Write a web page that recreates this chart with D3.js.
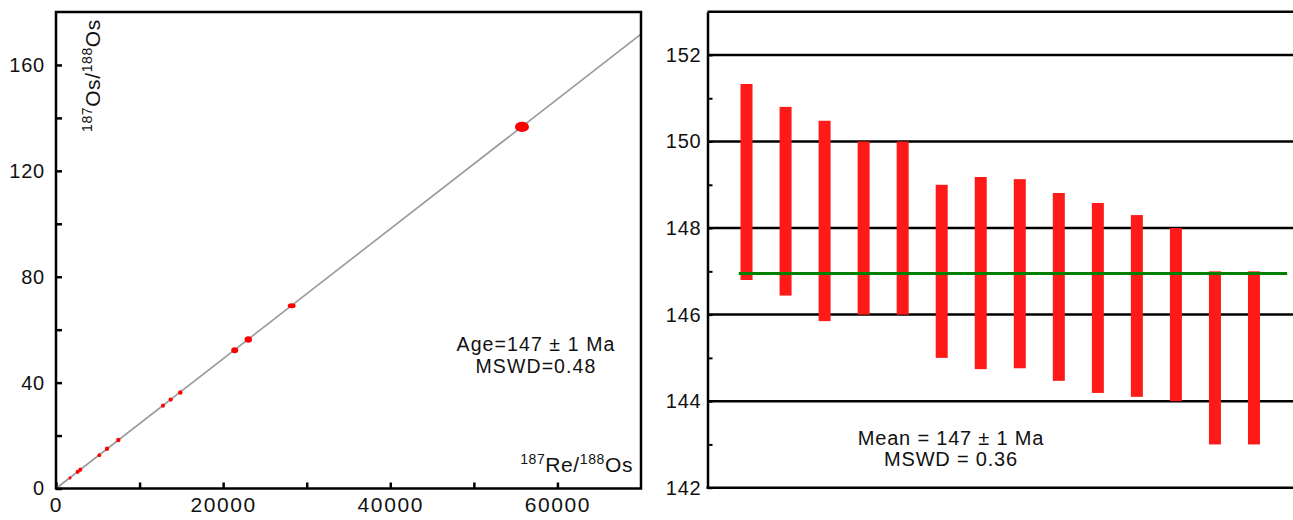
<!DOCTYPE html>
<html>
<head>
<meta charset="utf-8">
<script src="https://cdn.jsdelivr.net/npm/d3@7"></script>
<style>
  body { margin: 0; background: #fff; }
  text { font-family: "Liberation Sans", Arial, sans-serif; fill: #111; }
</style>
</head>
<body>
<div id="chart"></div>
<script>
// isochron data (187Re/188Os, 187Os/188Os, 2s errors)
var reOs = [1675, 2597, 2908, 5181, 6103, 7455, 12804, 13725, 14874, 21383, 23011, 28204, 55762];
var osOs = [4.0, 6.3, 7.1, 12.6, 15.0, 18.3, 31.3, 33.6, 36.3, 52.2, 56.3, 69.0, 136.6];
var reErr = [180, 240, 240, 220, 260, 260, 240, 250, 270, 420, 440, 480, 840];
var osErr = [0.6, 0.8, 0.8, 0.75, 0.85, 0.85, 0.8, 0.8, 0.85, 1.15, 1.25, 0.95, 1.9];
var isoSlope = 0.002452, isoIntercept = 0;

var xTicks = [0, 10000, 20000, 30000, 40000, 50000, 60000];
var yTicks = [0, 20, 40, 60, 80, 100, 120, 140, 160];

// weighted mean data (model ages, Ma)
var ageHigh = [151.33, 150.80, 150.48, 150.0, 150.0, 149.0, 149.18, 149.13, 148.81, 148.58, 148.30, 148.0, 147.0, 147.0];
var ageLow  = [146.80, 146.44, 145.85, 146.0, 146.0, 145.0, 144.74, 144.76, 144.47, 144.19, 144.10, 144.0, 143.0, 143.0];
var meanAge = 146.95;
var ageTicks = [142, 143, 144, 145, 146, 147, 148, 149, 150, 151, 152];
var ageGrid = [144, 146, 148, 150, 152, 153];

var width = 1293, height = 520;

var svg = d3.select("#chart")
  .append("svg")
    .attr("width", width)
    .attr("height", height);

// ---------- left panel: isochron ----------
var x = d3.scaleLinear().domain([0, 70000]).range([56, 641]);
var y = d3.scaleLinear().domain([0, 180]).range([488.5, 12]);

var left = svg.append("g");

left.append("g")
    .attr("transform", "translate(0," + y(0) + ")")
    .call(d3.axisBottom(x).tickValues(xTicks).tickSizeInner(-6).tickSizeOuter(0).tickPadding(9)
      .tickFormat(function(d){ return d % 20000 === 0 ? d : ""; }))
    .call(function(g){ g.select(".domain").remove(); })
    .selectAll("text")
      .style("font-size", "21px")
      .style("letter-spacing", "1.6px");

left.append("g")
    .attr("transform", "translate(" + x(0) + ",0)")
    .call(d3.axisLeft(y).tickValues(yTicks).tickSizeInner(-6).tickSizeOuter(0).tickPadding(11)
      .tickFormat(function(d){ return d % 40 === 0 ? d : ""; }))
    .call(function(g){ g.select(".domain").remove(); })
    .selectAll("text")
      .style("font-size", "20px")
      .style("letter-spacing", "0.8px");

left.selectAll(".tick line").attr("stroke", "#000").attr("stroke-width", 2.5);

// regression line
left.append("line")
    .attr("x1", x(0)).attr("y1", y(isoIntercept))
    .attr("x2", x(70000)).attr("y2", y(isoIntercept + isoSlope * 70000))
    .attr("stroke", "#999")
    .attr("stroke-width", 1.6);

// error ellipses
left.selectAll("ellipse")
    .data(reOs)
    .enter()
    .append("ellipse")
      .attr("cx", function(d){ return x(d); })
      .attr("cy", function(d, i){ return y(osOs[i]); })
      .attr("rx", function(d, i){ return x(reErr[i]) - x(0); })
      .attr("ry", function(d, i){ return y(0) - y(osErr[i]); })
      .attr("fill", "#ff0000");

// frame
left.append("rect")
    .attr("x", x(0)).attr("y", y(180))
    .attr("width", x(70000) - x(0))
    .attr("height", y(0) - y(180))
    .attr("fill", "none")
    .attr("stroke", "#000")
    .attr("stroke-width", 2.5);

// axis titles
function isoLabel(sel, a, b) {
  sel.append("tspan").text("187").style("font-size", "14px").attr("dy", -8);
  sel.append("tspan").text(a).attr("dy", 8);
  sel.append("tspan").text("188").style("font-size", "14px").attr("dy", -8);
  sel.append("tspan").text(b).attr("dy", 8);
}

var yTitle = left.append("text")
    .attr("transform", "translate(100,132) rotate(-90)")
    .style("font-size", "21px")
    .style("letter-spacing", "0.6px");
isoLabel(yTitle, "Os/", "Os");

var xTitle = left.append("text")
    .attr("x", 633).attr("y", 472)
    .attr("text-anchor", "end")
    .style("font-size", "21px")
    .style("letter-spacing", "0.6px");
isoLabel(xTitle, "Re/", "Os");

left.append("text")
    .attr("x", 536).attr("y", 351)
    .attr("text-anchor", "middle")
    .style("font-size", "19.5px")
    .style("letter-spacing", "1.1px")
    .text("Age=147 \u00b1 1 Ma");
left.append("text")
    .attr("x", 536).attr("y", 373)
    .attr("text-anchor", "middle")
    .style("font-size", "19.5px")
    .style("letter-spacing", "1.1px")
    .text("MSWD=0.48");

// ---------- right panel: weighted mean ----------
var xr = d3.scaleLinear().domain([0, 15]).range([707.5, 1293]);
var yr = d3.scaleLinear().domain([142, 153]).range([487.7, 11.7]);

var right = svg.append("g");

right.selectAll("line.grid")
    .data(ageGrid)
    .enter()
    .append("line")
      .attr("class", "grid")
      .attr("x1", xr(0)).attr("x2", xr(15))
      .attr("y1", function(d){ return yr(d); })
      .attr("y2", function(d){ return yr(d); })
      .attr("stroke", "#000")
      .attr("stroke-width", 2.5);

right.append("g")
    .attr("transform", "translate(" + xr(0) + ",0)")
    .call(d3.axisLeft(yr).tickValues(ageTicks).tickSizeInner(-5).tickSizeOuter(0).tickPadding(6)
      .tickFormat(function(d){ return d % 2 === 0 ? d : ""; }))
    .call(function(g){
      g.select(".domain").attr("stroke", "#000").attr("stroke-width", 2.5);
      g.selectAll(".tick line").attr("stroke", "#000").attr("stroke-width", 2);
    })
    .selectAll("text")
      .style("font-size", "20px")
      .style("letter-spacing", "0.8px");

right.append("line")
    .attr("x1", xr(0) - 1).attr("x2", xr(15))
    .attr("y1", yr(142)).attr("y2", yr(142))
    .attr("stroke", "#000")
    .attr("stroke-width", 2.5);

// error bars
right.selectAll("rect.bar")
    .data(ageHigh)
    .enter()
    .append("rect")
      .attr("class", "bar")
      .attr("x", function(d, i){ return xr(i + 1) - 6; })
      .attr("width", 12)
      .attr("y", function(d){ return yr(d); })
      .attr("height", function(d, i){ return yr(ageLow[i]) - yr(d); })
      .attr("fill", "#ff1a1a");

// mean line
right.append("line")
    .attr("x1", xr(0.8)).attr("x2", xr(14.85))
    .attr("y1", yr(meanAge)).attr("y2", yr(meanAge))
    .attr("stroke", "#008000")
    .attr("stroke-width", 3);

right.append("text")
    .attr("x", 951).attr("y", 445)
    .attr("text-anchor", "middle")
    .style("font-size", "20px")
    .style("letter-spacing", "0.8px")
    .text("Mean = 147 \u00b1 1 Ma");
right.append("text")
    .attr("x", 951).attr("y", 466)
    .attr("text-anchor", "middle")
    .style("font-size", "20px")
    .style("letter-spacing", "0.8px")
    .text("MSWD = 0.36");
</script>
</body>
</html>
